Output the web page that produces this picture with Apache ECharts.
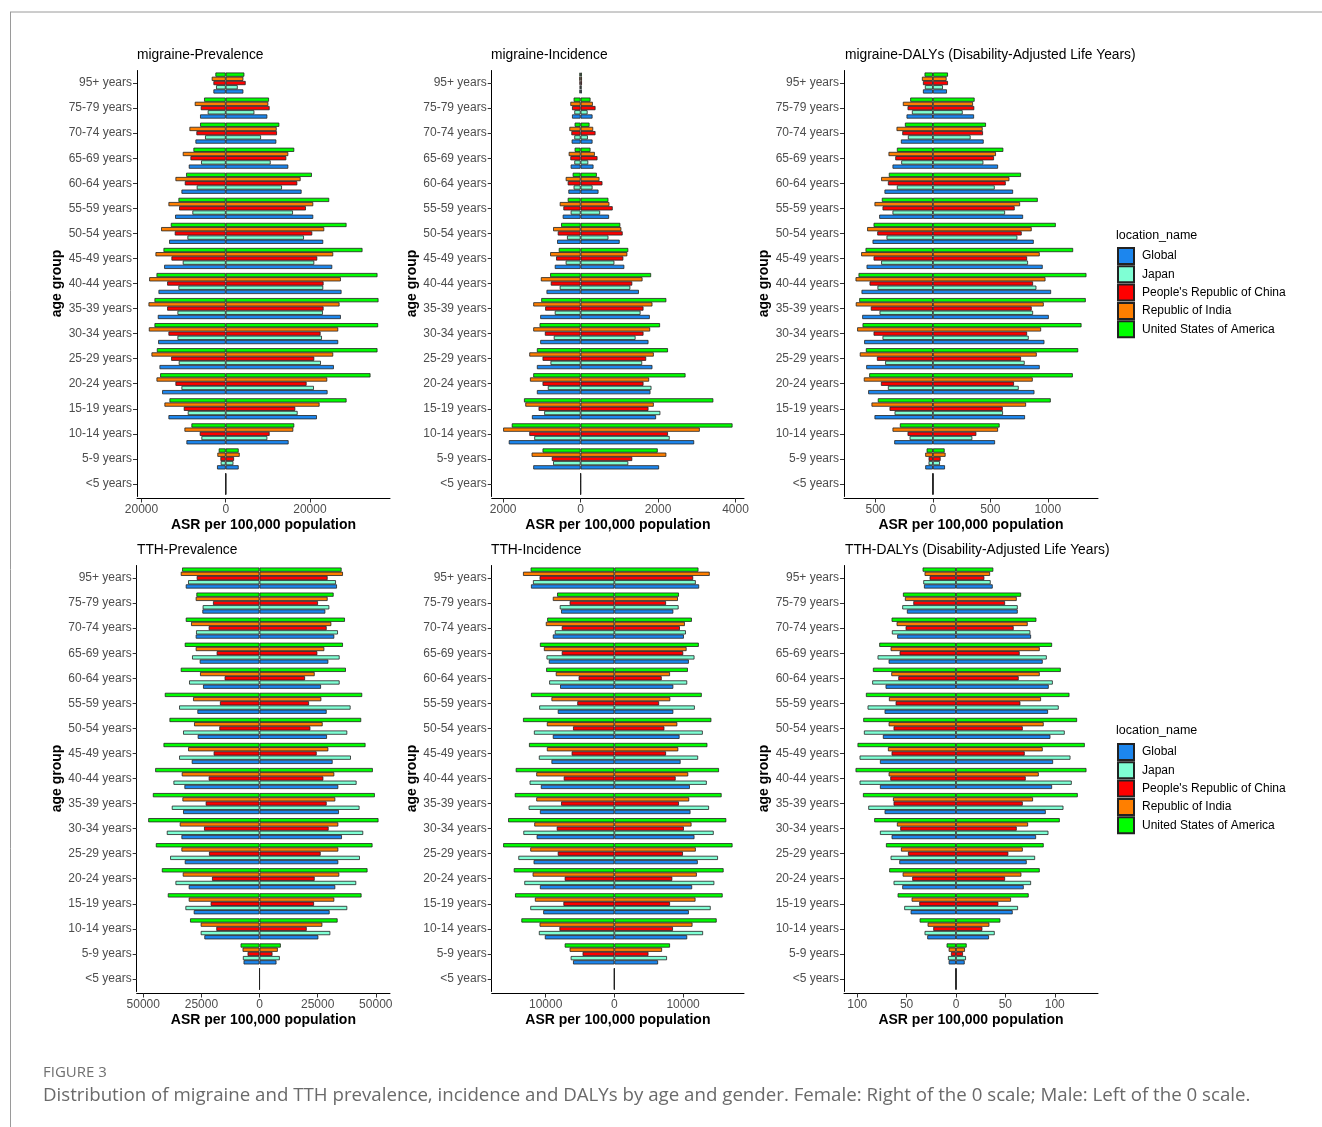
<!DOCTYPE html>
<html><head><meta charset="utf-8">
<script src="https://cdn.jsdelivr.net/npm/echarts@6/dist/echarts.min.js"></script>
<style>html,body{margin:0;padding:0;background:#fff}#c{width:1322px;height:1127px}</style>
</head><body><div id="c"></div><script>
// ---------- categories / legend ----------
const ageGroups = ['95+ years','75-79 years','70-74 years','65-69 years','60-64 years','55-59 years','50-54 years','45-49 years','40-44 years','35-39 years','30-34 years','25-29 years','20-24 years','15-19 years','10-14 years','5-9 years','<5 years'];
const locations = ['Global','Japan',"People's Republic of China",'Republic of India','United States of America'];
const locColors = ['#1C86EE','#7FFFD4','#FF0000','#FF7F00','#00FF00'];

// ---------- migraine prevalence (male = left, female = right) ----------
const mPrev_Global_M = [2920,6090,7190,8770,10510,12020,13440,14620,15970,16130,16050,15730,15100,13600,9330,2060,0];
const mPrev_Global_F = [4190,9880,12020,14860,18020,20790,23160,25300,27510,27350,26720,25690,24190,21660,14940,3080,0];
const mPrev_Japan_M  = [2290,4270,4900,5850,6880,7910,9090,10200,11230,11460,11460,11150,10510,9010,5770,1190,0];
const mPrev_Japan_F  = [2850,6800,8380,10670,13360,15970,18580,21030,23160,23080,22850,22610,20950,17080,9880,1820,0];
const mPrev_China_M  = [2920,5930,6960,8380,9720,11070,12100,12890,13910,13910,13600,12960,11940,9960,6170,1260,0];
const mPrev_China_F  = [4740,10430,12170,14390,17000,19050,20550,21740,23240,23240,22530,21030,19210,16520,10430,1980,0];
const mPrev_India_M  = [3320,7350,8620,10200,11940,13600,15340,16680,18180,18340,18260,17630,16440,14550,9800,1980,0];
const mPrev_India_F  = [4190,10120,12100,14860,17790,20790,23400,25530,27350,27040,26720,25530,24110,22290,16050,3320,0];
const mPrev_USA_M    = [2450,5140,6090,7670,9410,11230,13040,14780,16440,16920,16920,16360,15570,13360,8140,1660,0];
const mPrev_USA_F    = [4430,10280,12730,16280,20470,24580,28700,32490,36050,36290,36200,36050,34390,28700,16280,3080,0];

// ---------- migraine incidence ----------
const mInc_Global_M = [30,222,231,256,316,462,607,667,881,1043,1043,1129,1129,1257,1855,1223,0];
const mInc_Global_F = [30,308,308,333,462,735,1009,1129,1505,1787,1753,1855,1804,1949,2933,2026,0];
const mInc_Japan_M  = [25,162,162,162,180,256,351,385,539,667,693,778,846,940,1197,710,0];
const mInc_Japan_F  = [25,180,188,197,308,504,718,872,1283,1548,1419,1590,1830,2060,2300,1231,0];
const mInc_China_M  = [30,222,239,265,333,445,590,633,770,915,923,983,983,1086,1325,744,0];
const mInc_China_F  = [35,385,385,436,564,829,1086,1103,1334,1624,1624,1693,1624,1753,2257,1334,0];
const mInc_India_M  = [35,265,291,308,385,539,710,787,1026,1223,1223,1325,1308,1428,2000,1265,0];
const mInc_India_F  = [35,316,325,368,487,744,1052,1206,1599,1855,1796,1890,1770,1890,3078,2214,0];
const mInc_USA_M    = [30,180,154,154,205,333,504,564,787,1017,1060,1129,1223,1462,1778,983,0];
const mInc_USA_F    = [30,256,231,256,419,718,1026,1231,1821,2214,2052,2257,2710,3428,3924,1992,0];

// ---------- migraine DALYs ----------
const mDaly_Global_M = [87,230,279,352,422,468,526,578,622,616,599,581,564,509,337,67,0];
const mDaly_Global_F = [122,358,442,567,698,785,878,956,1029,1009,971,930,884,802,541,105,0];
const mDaly_Japan_M  = [70,183,218,276,314,352,404,451,483,465,439,416,392,334,203,38,0];
const mDaly_Japan_F  = [87,259,328,439,538,628,735,828,901,872,834,799,747,610,343,61,0];
const mDaly_China_M  = [87,221,267,328,392,439,485,517,552,541,517,488,453,378,221,38,0];
const mDaly_China_F  = [131,360,436,532,634,712,773,820,872,860,820,767,706,608,378,67,0];
const mDaly_India_M  = [96,262,317,387,451,509,573,625,674,672,660,637,602,535,352,67,0];
const mDaly_India_F  = [119,349,433,549,666,759,860,930,980,965,942,904,869,811,567,110,0];
const mDaly_USA_M    = [73,198,244,314,384,445,517,587,648,642,613,584,555,480,288,55,0];
const mDaly_USA_F    = [131,363,462,613,767,913,1070,1221,1337,1331,1294,1265,1218,1026,581,102,0];

// ---------- TTH prevalence ----------
const tPrev_Global_M = [31720,24580,27440,25720,24290,26720,26580,29150,32300,32870,33580,32150,30440,28290,23720,6860,0];
const tPrev_Global_F = [33300,28290,32150,29580,26440,28870,29010,31440,33870,34150,35440,33870,32580,30150,25290,7290,0];
const tPrev_Japan_M  = [30720,24440,27290,29010,30290,34580,32870,34580,37010,37730,39870,38440,36150,31870,25290,7150,0];
const tPrev_Japan_F  = [32870,30010,33720,34440,34440,39150,37730,39300,41730,43010,44590,43160,41580,37730,30440,8720,0];
const tPrev_China_M  = [27010,20010,21860,18430,15000,17010,17290,19720,21860,23150,23860,21720,20430,21010,18580,5140,0];
const tPrev_China_F  = [29290,25150,28870,24860,19580,21290,21860,24580,27440,28870,29720,26290,23720,23440,20290,5570,0];
const tPrev_India_M  = [33870,27440,29440,27440,25580,28580,28150,30720,33440,33150,34300,33580,33010,30440,25290,7290,0];
const tPrev_India_F  = [35870,29290,30870,27870,23720,26580,27150,29580,32150,32580,33870,33870,34300,32150,27010,7860,0];
const tPrev_USA_M    = [33300,27150,31720,32150,33870,40730,38730,41300,44870,45870,47870,44590,42010,39440,29870,8150,0];
const tPrev_USA_F    = [35300,31870,36730,35870,37150,44160,43730,45590,48730,49590,51160,48590,46440,43870,33580,9150,0];

// ---------- TTH incidence ----------
const tInc_Global_M = [12140,7760,8960,9540,7900,8240,8960,9160,10700,10840,11320,11760,10840,10360,10120,6020,0];
const tInc_Global_F = [12340,8580,10120,10840,8580,8580,9490,9640,10990,11080,11660,12140,11320,10840,10600,6360,0];
const tInc_Japan_M  = [11850,7950,8670,9880,9490,10940,11710,10990,12340,12480,13250,13980,13110,12240,10990,6360,0];
const tInc_Japan_F  = [11850,9350,10410,11660,10600,11710,12870,12190,13450,13780,14460,15080,14550,14020,12910,7660,0];
const tInc_China_M  = [10890,6510,7660,7660,5200,5400,6020,6220,7370,7760,8390,8240,7230,7420,8000,4630,0];
const tInc_China_F  = [11470,7520,9540,10020,6890,6510,7280,7520,8920,9400,10120,9980,8430,8100,8530,4960,0];
const tInc_India_M  = [13300,8960,9980,10260,8530,9160,9830,9830,11370,11370,11660,12240,11900,11570,10890,6510,0];
const tInc_India_F  = [13880,9250,10260,10510,8100,8140,9160,9300,10750,10890,11230,11850,12000,11810,11370,6940,0];
const tInc_USA_M    = [12190,8340,9780,10840,9930,12140,13300,12430,14360,14500,15470,16190,14650,14460,13540,7230,0];
const tInc_USA_F    = [12240,9400,11280,12290,10700,12720,14120,13540,15230,15610,16290,17200,15900,15760,14890,8100,0];

// ---------- TTH DALYs ----------
const tDaly_Global_M = [32.4,49.7,59.5,68.2,71.3,72.3,74.0,77.0,77.0,72.3,65.2,57.4,54.4,45.9,29.1,7.4,0];
const tDaly_Global_F = [37.2,62.5,76.0,87.8,93.9,93.2,95.6,98.3,97.3,90.9,81.1,71.6,68.6,57.4,33.4,8.8,0];
const tDaly_Japan_M  = [33.1,54.4,64.9,79.4,84.8,89.5,93.2,97.6,97.6,88.8,77.0,66.2,63.2,52.4,31.8,8.1,0];
const tDaly_Japan_F  = [35.1,62.5,75.3,91.9,98.0,104.0,110.1,115.9,117.2,108.8,93.6,80.1,76.0,62.8,39.2,10.1,0];
const tDaly_China_M  = [26.7,43.2,51.0,57.1,58.4,61.1,63.2,65.2,66.5,63.2,56.4,48.6,44.3,37.2,23.0,5.1,0];
const tDaly_China_F  = [28.7,49.7,58.4,64.5,63.5,65.2,67.6,69.6,70.6,67.6,61.5,53.0,49.7,42.9,26.7,7.1,0];
const tDaly_India_M  = [31.8,51.7,60.1,66.2,65.5,67.9,68.2,68.9,68.2,63.8,59.8,55.7,54.0,44.9,28.7,7.4,0];
const tDaly_India_F  = [34.5,61.5,72.6,84.8,84.8,86.1,88.8,87.8,83.8,78.0,73.0,67.6,66.2,55.7,33.8,9.1,0];
const tDaly_USA_M    = [33.8,53.7,65.2,77.7,84.1,91.2,93.9,99.7,101.7,94.2,82.8,70.9,67.6,59.1,36.8,9.5,0];
const tDaly_USA_F    = [37.8,65.9,81.4,97.3,106.1,114.9,122.6,130.4,132.1,123.3,105.1,88.8,84.8,73.6,44.9,10.8,0];

// ---------- tick labels ----------
const ticks_mPrev = [-20000,0,20000];
const ticks_mInc  = [-2000,0,2000,4000];
const ticks_mDaly = [-500,0,500,1000];
const ticks_tPrev = [-50000,-25000,0,25000,50000];
const ticks_tInc  = [-10000,0,10000];
const ticks_tDaly = [-100,-50,0,50,100];

const titles = ['migraine-Prevalence','migraine-Incidence','migraine-DALYs (Disability-Adjusted Life Years)',
                'TTH-Prevalence','TTH-Incidence','TTH-DALYs (Disability-Adjusted Life Years)'];

// panel definitions (data in legend order: Global, Japan, China, India, USA)
const panels = [
  {male:[mPrev_Global_M,mPrev_Japan_M,mPrev_China_M,mPrev_India_M,mPrev_USA_M], female:[mPrev_Global_F,mPrev_Japan_F,mPrev_China_F,mPrev_India_F,mPrev_USA_F], ticks:ticks_mPrev, grid:{left:137,top:70.5,width:253,height:426}},
  {male:[mInc_Global_M,mInc_Japan_M,mInc_China_M,mInc_India_M,mInc_USA_M], female:[mInc_Global_F,mInc_Japan_F,mInc_China_F,mInc_India_F,mInc_USA_F], ticks:ticks_mInc, grid:{left:491.7,top:70.5,width:252.3,height:426}},
  {male:[mDaly_Global_M,mDaly_Japan_M,mDaly_China_M,mDaly_India_M,mDaly_USA_M], female:[mDaly_Global_F,mDaly_Japan_F,mDaly_China_F,mDaly_India_F,mDaly_USA_F], ticks:ticks_mDaly, grid:{left:844,top:70.5,width:254,height:426}},
  {male:[tPrev_Global_M,tPrev_Japan_M,tPrev_China_M,tPrev_India_M,tPrev_USA_M], female:[tPrev_Global_F,tPrev_Japan_F,tPrev_China_F,tPrev_India_F,tPrev_USA_F], ticks:ticks_tPrev, grid:{left:136.7,top:565.5,width:253.3,height:426}},
  {male:[tInc_Global_M,tInc_Japan_M,tInc_China_M,tInc_India_M,tInc_USA_M], female:[tInc_Global_F,tInc_Japan_F,tInc_China_F,tInc_India_F,tInc_USA_F], ticks:ticks_tInc, grid:{left:491.7,top:565.5,width:252.3,height:426}},
  {male:[tDaly_Global_M,tDaly_Japan_M,tDaly_China_M,tDaly_India_M,tDaly_USA_M], female:[tDaly_Global_F,tDaly_Japan_F,tDaly_China_F,tDaly_India_F,tDaly_USA_F], ticks:ticks_tDaly, grid:{left:844,top:565.5,width:254,height:426}}
];

const FONT = '"Liberation Sans", Arial, sans-serif';
const grids = [], xAxes = [], yAxes = [], series = [];
panels.forEach((p, i) => {
  grids.push(Object.assign({}, p.grid));
  let lo = 0, hi = 0;
  p.male.forEach(a => a.forEach(v => { lo = Math.min(lo, -v); }));
  p.female.forEach(a => a.forEach(v => { hi = Math.max(hi, v); }));
  const pad = 0.05 * (hi - lo);
  xAxes.push({
    gridIndex: i, type: 'value', min: lo - pad, max: hi + pad, offset: 2,
    splitLine: {show: false},
    axisLine: {show: true, onZero: false, lineStyle: {color: '#000', width: 1}},
    axisTick: {show: true, length: 4, customValues: p.ticks, lineStyle: {color: '#333'}},
    axisLabel: {customValues: p.ticks, formatter: v => String(Math.abs(v)), fontSize: 12, color: '#4d4d4d', margin: 5, fontFamily: FONT},
    name: 'ASR per 100,000 population', nameLocation: 'middle', nameGap: 20,
    nameTextStyle: {fontWeight: 'bold', fontSize: 14, color: '#000', fontFamily: FONT}
  });
  yAxes.push({
    gridIndex: i, type: 'category', inverse: true, data: ageGroups,
    axisLine: {show: true, onZero: false, lineStyle: {color: '#000', width: 1}},
    axisTick: {show: true, alignWithLabel: true, length: 4, lineStyle: {color: '#333'}},
    axisLabel: {fontSize: 12, color: '#4d4d4d', margin: 5, fontFamily: FONT},
    splitLine: {show: false},
    name: 'age group', nameLocation: 'middle', nameGap: 73, nameRotate: 90,
    nameTextStyle: {fontWeight: 'bold', fontSize: 14, color: '#000', fontFamily: FONT}
  });
  // draw order top->bottom inside each group: USA, India, China, Japan, Global
  for (let k = locations.length - 1; k >= 0; k--) {
    const common = {
      type: 'bar', name: locations[k], xAxisIndex: i, yAxisIndex: i, stack: 'p' + i + '_' + k,
      barCategoryGap: '16%', barGap: '0%', silent: true,
      itemStyle: {color: locColors[k], borderColor: '#222', borderWidth: 0.8}
    };
    series.push(Object.assign({}, common, {data: p.male[k].map(v => -v)}));
    series.push(Object.assign({}, common, {data: p.female[k].slice()}));
  }
  // zero-value groups: outline of zero-width bars appears as a vertical stroke at 0
  const zeroIdx = [];
  ageGroups.forEach((g, j) => {
    const allZero = p.male.every(a => a[j] === 0) && p.female.every(a => a[j] === 0);
    if (allZero) zeroIdx.push([0, j]);
  });
  series.push({
    type: 'custom', name: 'zero', xAxisIndex: i, yAxisIndex: i, silent: true, data: zeroIdx,
    encode: {x: 0, y: 1},
    renderItem: (params, api) => {
      const c = api.coord([api.value(0), api.value(1)]);
      const bw = api.size([0, 1])[1];
      return {type: 'line', shape: {x1: c[0], y1: c[1] - bw * 0.42, x2: c[0], y2: c[1] + bw * 0.42},
              style: {stroke: '#222', lineWidth: 1}};
    }
  });
});

const graphics = [
  {type: 'line', shape: {x1: 10, y1: 12, x2: 1322, y2: 12}, style: {stroke: '#9a9a9a', lineWidth: 1}},
  {type: 'line', shape: {x1: 10.5, y1: 12, x2: 10.5, y2: 1127}, style: {stroke: '#9a9a9a', lineWidth: 1}},
  {type: 'text', x: 43, y: 1073, style: {text: 'FIGURE 3', font: '15px "Open Sans", sans-serif', fill: '#707070', verticalAlign: 'middle'}},
  {type: 'text', x: 43, y: 1096, style: {text: 'Distribution of migraine and TTH prevalence, incidence and DALYs by age and gender. Female: Right of the 0 scale; Male: Left of the 0 scale.', font: '18.7px "Open Sans", sans-serif', fill: '#6a6a6a', verticalAlign: 'middle'}},
  {type: 'text', x: 1116, y: 236, style: {text: 'location_name', font: '12.5px ' + FONT, fill: '#000', verticalAlign: 'middle'}},
  {type: 'text', x: 1116, y: 731, style: {text: 'location_name', font: '12.5px ' + FONT, fill: '#000', verticalAlign: 'middle'}}
];
const titlePos = [[137,55],[491,55],[845,55],[137,550],[491,550],[845,550]];
titles.forEach((t, i) => graphics.push({type: 'text', x: titlePos[i][0], y: titlePos[i][1],
  style: {text: t, font: '13.8px ' + FONT, fill: '#000', verticalAlign: 'middle'}}));

const legendBase = {orient: 'vertical', left: 1117, padding: 0, itemWidth: 16, itemHeight: 16, itemGap: 0.3, icon: 'rect',
  data: locations, selectedMode: false,
  textStyle: {fontSize: 12, color: '#000', fontFamily: FONT, padding: [0, 0, 0, 3]}};

const chart = echarts.init(document.getElementById('c'), null, {renderer: 'canvas'});
chart.setOption({
  animation: false,
  backgroundColor: '#fff',
  grid: grids, xAxis: xAxes, yAxis: yAxes, series: series,
  legend: [Object.assign({top: 247}, legendBase), Object.assign({top: 743}, legendBase)],
  graphic: graphics
});
</script></body></html>
